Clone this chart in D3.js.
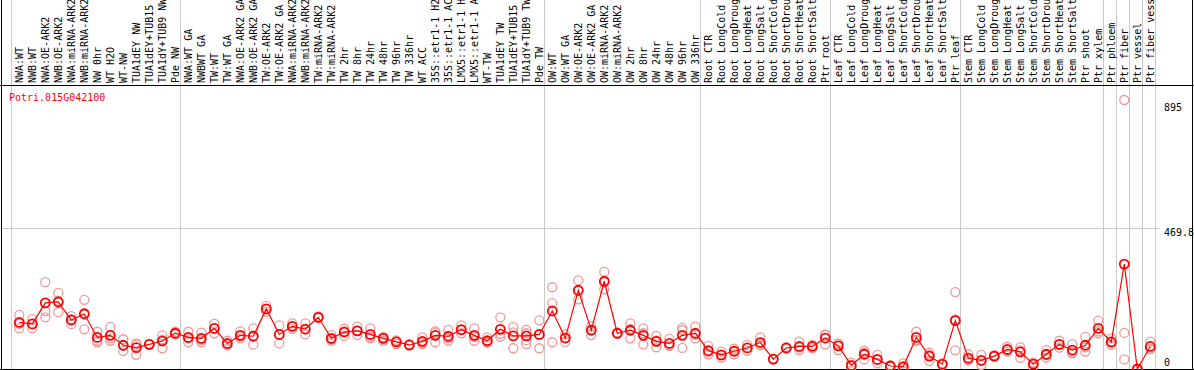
<!DOCTYPE html>
<html lang="en">
	<head>
		<meta charset="utf-8">
		<title>Potri.015G042100 expression</title>
		<script src="https://d3js.org/d3.v7.min.js"></script>
		<style type="text/css">
			body { margin: 0; background: #fff; }
			text { font-family: "DejaVu Sans Mono", monospace; font-size: 10px; }
		</style>
	</head>
	<body>
		<script type="text/javascript">
			//Width and height
			var w = 1194;
			var h = 370;

			var geneName = "Potri.015G042100";

			//Sample names, left to right
			var labels = [
				"NWA:WT", "NWB:WT", "NWA:OE-ARK2", "NWB:OE-ARK2", "NWA:miRNA-ARK2", "NWB:miRNA-ARK2",
				"NW 0hr", "WT H2O", "WT-NW", "TUA1dEY NW", "TUA1dEY+TUB15", "TUA1dY+TUB9 NW", "Pde NW",
				"NWA:WT GA", "NWBWT GA", "TW:WT", "TW:WT GA", "NWA:OE-ARK2 GA", "NWB:OE-ARK2 GA",
				"TW:OE-ARK2", "TW:OE-ARK2 GA", "NWA:miRNA-ARK2", "NWB:miRNA-ARK2", "TW:miRNA-ARK2", "TW:miRNA-ARK2",
				"TW 2hr", "TW 8hr", "TW 24hr", "TW 48hr", "TW 96hr", "TW 336hr", "WT ACC",
				"35S::etr1-1 H2O", "35S::etr1-1 ACC", "LMX5::etr1-1 H2O", "LMX5::etr1-1 ACC",
				"WT-TW", "TUA1dEY TW", "TUA1dEY+TUB15", "TUA1dY+TUB9 TW", "Pde TW",
				"OW:WT", "OW:WT GA", "OW:OE-ARK2", "OW:OE-ARK2 GA", "OW:miRNA-ARK2", "OW:miRNA-ARK2",
				"OW 2hr", "OW 8hr", "OW 24hr", "OW 48hr", "OW 96hr", "OW 336hr",
				"Root CTR", "Root LongCold", "Root LongDrought", "Root LongHeat", "Root LongSalt",
				"Root ShortCold", "Root ShortDrought", "Root ShortHeat", "Root ShortSalt", "Ptr root",
				"Leaf CTR", "Leaf LongCold", "Leaf LongDrought", "Leaf LongHeat", "Leaf LongSalt",
				"Leaf ShortCold", "Leaf ShortDrought", "Leaf ShortHeat", "Leaf ShortSalt", "Ptr leaf",
				"Stem CTR", "Stem LongCold", "Stem LongDrought", "Stem LongHeat", "Stem LongSalt",
				"Stem ShortCold", "Stem ShortDrought", "Stem ShortHeat", "Stem ShortSalt", "Ptr shoot",
				"Ptr xylem", "Ptr phloem", "Ptr fiber", "Ptr vessel", "Ptr fiber vessel"
			];

			//Mean expression per sample
			var means = [
				155, 150, 220, 223, 163, 183, 105, 112, 79, 71, 82, 93, 119,
				105, 102, 135, 85, 112, 109, 200, 115, 142, 133, 172, 102, 123, 127, 115, 102, 90, 80, 92,
				112, 109, 131, 112, 94, 132, 110, 110, 115,
				193, 103, 262, 129, 292, 119, 129, 112, 92, 85, 112, 119,
				61, 47, 59, 70, 88, 33, 70, 75, 75, 103,
				77, 12, 49, 32, 10, 8, 105, 43, 16, 161,
				36, 29, 43, 65, 57, 16, 49, 82, 63, 79, 135,
				90, 349, 0, 75
			];

			//Replicate values per sample
			var reps = [
				[180,135,150], [166,135,149], [289,193,172], [253,189,227], [176,149,164], [230,187,132],
				[124,94,88], [140,94,102], [99,60,78], [85,47,81], [83,80,83], [112,69,98], [124,118,115],
				[124,89,102], [121,89,96], [151,119,135], [94,82,79], [125,102,109], [135,81,111],
				[210,191,199], [145,85,115], [152,133,141], [152,115,132], [172,175,169], [113,94,99],
				[134,110,125], [141,113,127], [135,102,108], [94,106,106], [83,95,92], [82,78,80],
				[105,83,88], [126,89,121], [130,94,103], [145,119,129], [135,94,107], [105,90,87],
				[172,107,117], [139,69,122], [130,119,96,83], [162,69,114],
				[272,219,89], [104,115,90], [295,232,259], [143,113,131], [323,265,288], [121,117,119],
				[152,102,133], [135,82,119], [110,72,94], [100,77,78], [137,70,129], [141,102,114],
				[77,49,57], [58,38,45], [68,49,60], [80,60,70], [105,80,79], [33,33,33],
				[72,68,70], [91,63,71], [80,69,76], [115,82,112],
				[85,63,83], [21,8,7], [61,32,54], [47,19,30], [12,9,9], [19,3,2],
				[124,94,97], [54,27,48], [18,15,15], [256,165,62],
				[49,30,29], [47,13,27], [46,41,42], [74,58,63], [72,37,62], [22,8,18],
				[63,38,46], [94,71,81], [83,52,54], [107,58,72], [161,119,125],
				[102,88,80], [895,120,32], [0,0,0], [91,66,68]
			];

			//Where the grey group separators fall (sample index)
			var dividers = [0, 13, 41, 53, 63, 73, 84, 85, 86, 87, 88];

			//Right-hand value labels
			var yTicks = [895, 469.8, 0];

			var headerY = 85;
			var baseY = 369;

			var x = d3.scaleLinear()
				.domain([0, labels.length - 1])
				.range([19.3, 1150.3]);
			var edge = function(i) { return x(i) - 8.3; };

			var y = d3.scaleLinear()
				.domain([0, 895])
				.range([baseY, 100]);

			//Create SVG element
			var svg = d3.select("body")
						.append("svg")
						.attr("width", w)
						.attr("height", h);

			svg.append("rect").attr("width", w).attr("height", h).style("fill", "#fff");

			//grey separators
			svg.selectAll("line.div")
				.data(dividers)
				.enter()
				.append("line")
				.attr("class", "div")
				.attr("x1", function(d) { return Math.round(edge(d)) + 0.5; })
				.attr("x2", function(d) { return Math.round(edge(d)) + 0.5; })
				.attr("y1", 0)
				.attr("y2", baseY)
				.style("stroke", "#c8c8c8")
				.style("stroke-width", 1);

			//middle gridline
			svg.append("line")
				.attr("x1", 1).attr("x2", 1160)
				.attr("y1", Math.round(y(469.8)) + 0.5).attr("y2", Math.round(y(469.8)) + 0.5)
				.style("stroke", "#c8c8c8");

			//black frame
			svg.append("line").attr("x1", 1.5).attr("x2", 1.5).attr("y1", 0).attr("y2", baseY + 1).style("stroke", "#000");
			svg.append("line").attr("x1", 0).attr("x2", w).attr("y1", headerY + 0.5).attr("y2", headerY + 0.5).style("stroke", "#000");
			svg.append("line").attr("x1", 0).attr("x2", w).attr("y1", baseY + 0.5).attr("y2", baseY + 0.5).style("stroke", "#000");
			svg.append("line").attr("x1", w - 1.5).attr("x2", w - 1.5).attr("y1", 0).attr("y2", baseY + 1).style("stroke", "#000");

			//sample names, rotated
			svg.selectAll("text.lab")
				.data(labels)
				.enter()
				.append("text")
				.attr("class", "lab")
				.attr("transform", function(d, i) { return "translate(" + (x(i) + 3.2) + "," + (headerY - 2) + ") rotate(-90)"; })
				.style("fill", "#000")
				.text(function(d) { return d; });

			//gene name
			svg.append("text")
				.attr("x", 9)
				.attr("y", 101)
				.style("fill", "#ff0000")
				.text(geneName);

			//value labels at right
			svg.selectAll("text.yt")
				.data(yTicks)
				.enter()
				.append("text")
				.attr("class", "yt")
				.attr("x", 1164)
				.attr("y", function(d) { return d === 0 ? y(d) - 3 : (d === 895 ? y(d) + 11 : y(d) + 8); })
				.style("fill", "#000")
				.text(function(d) { return d; });

			//replicates
			var flat = [];
			reps.forEach(function(r, i) { r.forEach(function(v) { flat.push({ i: i, v: v }); }); });
			svg.selectAll("circle.rep")
				.data(flat)
				.enter()
				.append("circle")
				.attr("class", "rep")
				.attr("cx", function(d) { return x(d.i); })
				.attr("cy", function(d) { return y(d.v); })
				.attr("r", 4.5)
				.style("fill", "none")
				.style("stroke", "#ec9a9a")
				.style("stroke-width", 1.3);

			//mean line
			var line = d3.line()
				.x(function(d, i) { return x(i); })
				.y(function(d) { return y(d); });
			svg.append("path")
				.datum(means)
				.attr("d", line)
				.style("fill", "none")
				.style("stroke", "#ff0000")
				.style("stroke-width", 1.2);

			//means
			svg.selectAll("circle.mean")
				.data(means)
				.enter()
				.append("circle")
				.attr("class", "mean")
				.attr("cx", function(d, i) { return x(i); })
				.attr("cy", function(d) { return y(d); })
				.attr("r", 4.5)
				.style("fill", "none")
				.style("stroke", "#ff0000")
				.style("stroke-width", 1.8);
		</script>
	</body>
</html>
